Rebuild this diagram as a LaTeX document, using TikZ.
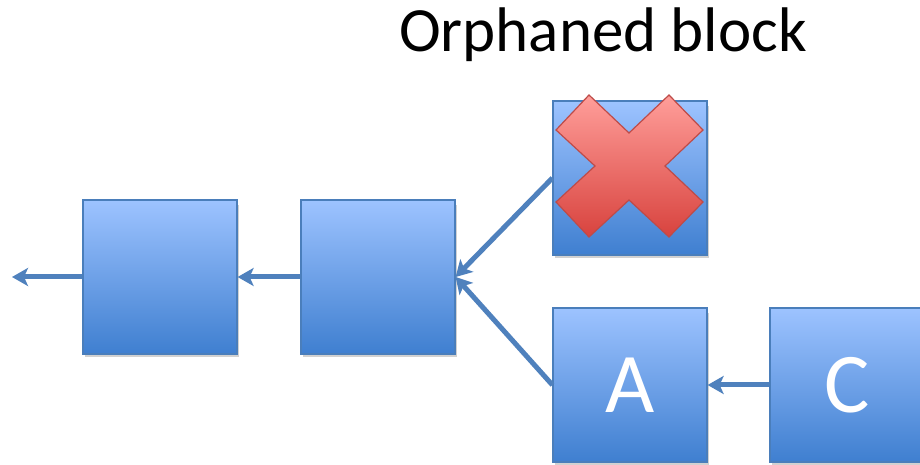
\documentclass[tikz,border=0pt]{standalone}
\usepackage{fontspec}
\setmainfont{Carlito}
\usetikzlibrary{arrows.meta}
\definecolor{boxtop}{HTML}{9DC3FF}
\definecolor{boxbot}{HTML}{3F7FD0}
\definecolor{boxline}{HTML}{4A7EBB}
\definecolor{arrowc}{HTML}{4F81BD}
\definecolor{xtop}{HTML}{FF9E9A}
\definecolor{xbot}{HTML}{D8433E}
\definecolor{xline}{HTML}{BE4B48}
\tikzset{
  block/.style={draw=boxline, line width=1.2pt, top color=boxtop, bottom color=boxbot,
    minimum width=154pt, minimum height=154pt, inner sep=0pt, text=white,
    font=\fontsize{85}{85}\selectfont, anchor=center},
  shadowbox/.style={fill=black, opacity=0.18},
  conn/.style={draw=arrowc, line width=5pt, -{Stealth[length=16pt,width=18pt,inset=4pt]}},
  xmark/.style={draw=xline, line width=1.2pt, top color=xtop, bottom color=xbot}
}
\begin{document}
\begin{tikzpicture}[x=1pt,y=1pt]
\clip (0,0) rectangle (920,465);
\useasboundingbox (0,0) rectangle (920,465);
\fill[white] (0,0) rectangle (920,465);
% shadows
\foreach \cx/\cy in {160/188, 378/188, 630/287, 630/80, 847/80}
  \fill[shadowbox] (\cx-75,\cy-80) rectangle (\cx+79,\cy+72);
\node[block] (b1) at (160,188) {};
\node[block] (b2) at (378,188) {};
\node[block] (orph) at (630,287) {};
\node[block] (a) at (630,80) {A};
\node[block] (c) at (847,80) {C};
\coordinate (out) at (12,188);
\node[font=\fontsize{63}{63}\selectfont] (title) at (603,430) {Orphaned block};
% connectors
\draw[conn] (b1.west) -- (out);
\draw[conn] (b2.west) -- (b1.east);
\draw[conn] (orph.west) -- (b2.east);
\draw[conn] (a.west) -- (b2.east);
\draw[conn] (c.west) -- (a.east);
% red X
\draw[xmark] (556,335) -- (589,370) -- (629,332) -- (669,370) -- (703,335) -- (665,299)
  -- (703,263) -- (669,228) -- (629,265) -- (589,228) -- (556,263) -- (595,299) -- cycle;
\end{tikzpicture}
\end{document}
